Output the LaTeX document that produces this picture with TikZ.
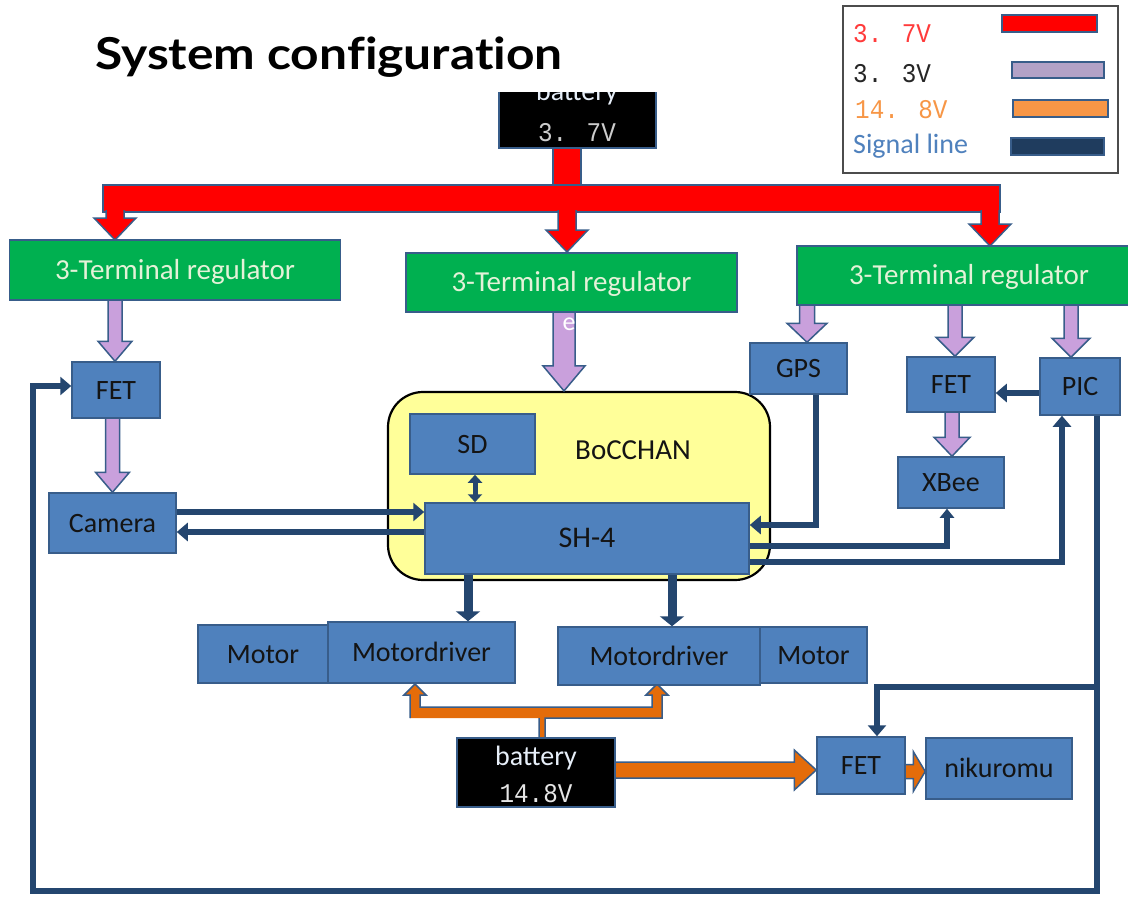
\documentclass[tikz,border=0pt]{standalone}
\usepackage{fontspec}
\setmainfont{Carlito}
\newfontfamily\titlefont[Ligatures=NoCommon]{Lato}
\newfontfamily\monofont{Liberation Mono}
\usetikzlibrary{arrows.meta,calc}
\definecolor{boxblue}{HTML}{4F81BD}
\definecolor{bord}{HTML}{385D8A}
\definecolor{regg}{HTML}{00B050}
\definecolor{regtext}{HTML}{E4F2D8}
\definecolor{redc}{HTML}{FF0000}
\definecolor{lav}{HTML}{C9A0DC}
\definecolor{orng}{HTML}{E46C0A}
\definecolor{legorng}{HTML}{F79646}
\definecolor{leglav}{HTML}{B3A2C7}
\definecolor{sigc}{HTML}{24466F}
\definecolor{yel}{HTML}{FFFF99}
\definecolor{txt}{HTML}{141414}
\definecolor{battext}{HTML}{E6EEF8}
\definecolor{legred}{HTML}{FF3B3B}
\definecolor{legblue}{HTML}{4F81BD}
\pgfdeclarelayer{back}
\pgfdeclarelayer{mid}
\pgfsetlayers{back,mid,main}
\newcommand\monotext[1]{\scalebox{0.9}[1]{#1}}
\tikzset{
  box/.style={draw=bord, fill=boxblue, line width=1.5pt, inner sep=0pt, text=txt,
    font=\fontsize{28}{30}\selectfont, text height=18pt, text depth=0pt},
  reg/.style={box, fill=regg, text=regtext, font=\fontsize{29}{31}\selectfont, text height=18.7pt},
  batbox/.style={draw=bord, fill=black, line width=1.5pt, inner sep=0pt},
  swatch/.style={draw=bord, line width=1.5pt, inner sep=0pt, minimum height=17pt},
  legtext/.style={anchor=base west, inner sep=0pt},
  sig/.style={draw=sigc, line width=6pt},
  sigarr/.style={sig, -{Triangle[width=18pt,length=11pt]}},
  barrow/.style={draw=bord, line width=1.5pt, line join=miter},
}
% vertical block arrow: start (y used), tip (x,y used), fill, shaft half, head half, head length
\newcommand\vbarrow[6]{%
  \path[fill=#3] let \p1=#1, \p2=#2, \n1={ifthenelse(\y1>\y2,1,-1)} in
    (\x2-#4pt,\y1) -- (\x2-#4pt,\y2+\n1*#6pt) -- (\x2-#5pt,\y2+\n1*#6pt) -- (\x2,\y2)
    -- (\x2+#5pt,\y2+\n1*#6pt) -- (\x2+#4pt,\y2+\n1*#6pt) -- (\x2+#4pt,\y1) -- cycle;
  \draw[barrow] let \p1=#1, \p2=#2, \n1={ifthenelse(\y1>\y2,1,-1)} in
    (\x2-#4pt,\y1) -- (\x2-#4pt,\y2+\n1*#6pt) -- (\x2-#5pt,\y2+\n1*#6pt) -- (\x2,\y2)
    -- (\x2+#5pt,\y2+\n1*#6pt) -- (\x2+#4pt,\y2+\n1*#6pt) -- (\x2+#4pt,\y1);}
% horizontal block arrow: start (x used), tip (x,y used)
\newcommand\hbarrow[6]{%
  \path[fill=#3] let \p1=#1, \p2=#2, \n1={ifthenelse(\x2>\x1,1,-1)} in
    (\x1,\y2-#4pt) -- (\x2-\n1*#6pt,\y2-#4pt) -- (\x2-\n1*#6pt,\y2-#5pt) -- (\x2,\y2)
    -- (\x2-\n1*#6pt,\y2+#5pt) -- (\x2-\n1*#6pt,\y2+#4pt) -- (\x1,\y2+#4pt) -- cycle;
  \draw[barrow] let \p1=#1, \p2=#2, \n1={ifthenelse(\x2>\x1,1,-1)} in
    (\x1,\y2-#4pt) -- (\x2-\n1*#6pt,\y2-#4pt) -- (\x2-\n1*#6pt,\y2-#5pt) -- (\x2,\y2)
    -- (\x2-\n1*#6pt,\y2+#5pt) -- (\x2-\n1*#6pt,\y2+#4pt) -- (\x1,\y2+#4pt);}
\begin{document}
\begin{tikzpicture}[x=1pt,y=-1pt]
\useasboundingbox (0,0) rectangle (1128,899);

% title
\node[anchor=base west, inner sep=0pt, font=\titlefont\bfseries\fontsize{44}{46}\selectfont] (title) at (95,70) {\scalebox{1.13}[1]{System configuration}};

% BoCCHAN board
\begin{pgfonlayer}{back}
\fill[white] (0,0) rectangle (1128,899);
\node[draw=black, line width=2.2pt, fill=yel, rounded corners=35pt, minimum width=382pt, minimum height=188pt, inner sep=0pt] (boc) at (579,486) {};
\end{pgfonlayer}
\node[inner sep=0pt, text=txt, font=\fontsize{29}{31}\selectfont] (boctext) at (633,450) {BoCCHAN};

% regulators
\node[reg, minimum width=331pt, minimum height=60pt] (reg1) at (175,270) {3-Terminal regulator};
\node[reg, minimum width=331pt, minimum height=59pt] (reg2) at (571.5,282.5) {3-Terminal regulator};
\node[reg, minimum width=344pt, minimum height=59pt] (reg3) at (969,275.5) {3-Terminal regulator};

% blue boxes
\node[box, minimum width=88pt, minimum height=56pt] (fet1) at (116,390) {FET};
\node[box, minimum width=127pt, minimum height=60pt] (cam) at (112.5,523) {Camera};
\node[box, minimum width=97pt, minimum height=51pt] (gps) at (798.5,368.5) {GPS};
\node[box, minimum width=88pt, minimum height=55pt] (fet2) at (951,384.5) {FET};
\node[box, minimum width=80pt, minimum height=57pt] (pic) at (1080,386.5) {PIC};
\node[box, minimum width=106pt, minimum height=51pt] (xbee) at (951,482.5) {XBee};
\node[box, minimum width=125pt, minimum height=60pt] (sd) at (472.5,444) {SD};
\node[box, minimum width=324pt, minimum height=71pt, font=\fontsize{30}{32}\selectfont] (sh4) at (587,538.5) {SH-4};
\node[box, minimum width=130pt, minimum height=58pt] (motor1) at (263,654) {Motor};
\node[box, minimum width=187pt, minimum height=61pt] (md1) at (421.5,652.5) {Motordriver};
\node[box, minimum width=202pt, minimum height=58pt] (md2) at (659,656) {Motordriver};
\node[box, minimum width=107pt, minimum height=56pt] (motor2) at (813.5,655) {Motor};
\node[box, minimum width=88pt, minimum height=57pt] (fetb) at (861,765.5) {FET};
\node[box, minimum width=146pt, minimum height=61pt] (nik) at (999,768.5) {nikuromu};

% batteries
\begin{scope}
  \clip (480,93) rectangle (680,160);
  \node[batbox, minimum width=157pt, minimum height=70pt] (bat1) at (577.5,113) {};
  \node[anchor=base, inner sep=0pt, text=battext, font=\fontsize{28}{30}\selectfont] (bat1a) at (577,101) {battery};
\end{scope}
\node[anchor=base, inner sep=0pt, text=black!20, font=\monofont\fontsize{27}{29}\selectfont] (bat1b) at (577,142) {\monotext{3. 7V}};
\node[batbox, minimum width=158pt, minimum height=69pt] (bat2) at (536,772.5) {};
\node[anchor=base, inner sep=0pt, text=battext, font=\fontsize{28}{30}\selectfont] (bat2a) at (536,765) {battery};
\node[anchor=base, inner sep=0pt, text=black!10, font=\monofont\fontsize{27}{29}\selectfont] (bat2b) at (536,802) {\monotext{14.8V}};

% ---------- connectors (mid layer) ----------
\begin{pgfonlayer}{mid}
% 3.7V red bus
\filldraw[fill=redc, draw=bord, line width=1.5pt] (553,146) rectangle (581,186);
\filldraw[fill=redc, draw=bord, line width=1.5pt] (103,185) rectangle (1000,212);
\vbarrow{(115,210)}{(115,240)}{redc}{9}{21}{22}
\vbarrow{(567,210)}{(567,252)}{redc}{9}{21}{22}
\vbarrow{(990,210)}{(990,246)}{redc}{9}{21}{22}

% 3.3V lavender arrows
\vbarrow{(reg1.south)}{([xshift=-1pt]fet1.north)}{lav}{7}{17}{20}
\vbarrow{(fet1.south)}{(cam.north)}{lav}{7}{17}{20}
\vbarrow{(reg2.south)}{([xshift=-15pt]boc.north)}{lav}{11}{21}{25}
\vbarrow{(reg3.south)}{([xshift=8.5pt]gps.north)}{lav}{7.5}{20}{19}
\vbarrow{(reg3.south)}{([xshift=4pt]fet2.north)}{lav}{7}{19}{19}
\vbarrow{(reg3.south)}{([xshift=-9pt]pic.north)}{lav}{7}{19}{19}
\vbarrow{(fet2.south)}{([xshift=1pt]xbee.north)}{lav}{7}{18}{19}

% 14.8V orange
\path[fill=orng] (410,718) -- (410,695) -- (404,695) -- (415,684) -- (426,695) -- (420,695) -- (420,707)
  -- (652,707) -- (652,695) -- (646,695) -- (657,684) -- (668,695) -- (662,695) -- (662,718)
  -- (545,718) -- (545,738) -- (539,738) -- (539,718) -- cycle;
\draw[barrow] (410,718) -- (410,695) -- (404,695) -- (415,684) -- (426,695) -- (420,695) -- (420,707)
  -- (652,707) -- (652,695) -- (646,695) -- (657,684) -- (668,695) -- (662,695) -- (662,718)
  -- (545,718) -- (545,738) (539,738) -- (539,718) -- cycle;
\hbarrow{(bat2.east)}{([yshift=-4.5pt]fetb.west)}{orng}{8}{20}{22}
\hbarrow{(fetb.east)}{([yshift=-3pt]nik.west)}{orng}{7}{20}{12}

% signal lines
\coordinate (jn) at (1097,687);
\draw[sigarr] ([xshift=17pt]pic.south) |- (33,891) |- ([yshift=4pt]fet1.west);
\draw[sigarr] (jn) -| ([xshift=16pt]fetb.north);
\coordinate (p1) at ([yshift=-6.5pt]pic.west);
\draw[sigarr] (p1) -- (p1 -| fet2.east);
\coordinate (s1) at ([yshift=-23.5pt]sh4.east);
\draw[sigarr] (s1) -| ([xshift=-18pt]pic.south);
\coordinate (s2) at ([yshift=-7.5pt]sh4.east);
\draw[sig, -{Triangle[width=14pt,length=9pt]}] (s2) -| ([xshift=-4pt]xbee.south);
\coordinate (s3) at ([yshift=13.5pt]sh4.east);
\draw[sigarr] ([xshift=17.5pt]gps.south) |- (s3);
\coordinate (c1) at ([yshift=11pt]cam.east);
\draw[sigarr] (c1) -- (c1 -| sh4.west);
\coordinate (c2) at ([yshift=-9pt]cam.east);
\draw[sigarr] (c2 -| sh4.west) -- (c2);
\coordinate (sdc) at ([xshift=2.5pt]sd.south);
\draw[sig, line width=5pt, {Triangle[width=14pt,length=8pt]}-{Triangle[width=14pt,length=8pt]}] (sdc) -- (sdc |- sh4.north);
\coordinate (m1) at ([xshift=-119pt]sh4.south);
\coordinate (m2) at ([xshift=85pt]sh4.south);
\draw[sig, line width=9pt, -{Triangle[width=24pt,length=10pt]}] (m1) -- (m1 |- md1.north);
\draw[sig, line width=9pt, -{Triangle[width=24pt,length=10pt]}] (m2) -- (m2 |- md2.north);
\end{pgfonlayer}

\node[anchor=base, inner sep=0pt, text=white, font=\fontsize{26}{28}\selectfont] (stray) at (569,330) {e};

% legend
\node[draw=black!70, line width=2pt, minimum width=275pt, minimum height=167pt, inner sep=0pt] (leg) at (980.5,89.5) {};
\node[legtext, text=legred, font=\monofont\fontsize{27}{29}\selectfont] (l1) at (853,43) {\monotext{3. 7V}};
\node[legtext, text=black!85, font=\monofont\fontsize{27}{29}\selectfont] (l2) at (853,82) {\monotext{3. 3V}};
\node[legtext, text=legorng, font=\monofont\fontsize{27}{29}\selectfont] (l3) at (855,118) {\monotext{14. 8V}};
\node[legtext, text=legblue, font=\fontsize{28}{30}\selectfont] (l4) at (853,153) {Signal line};
\node[swatch, fill=redc, minimum width=95pt] (sw1) at (1049.5,23.5) {};
\node[swatch, fill=leglav, minimum width=92pt, minimum height=16pt] (sw2) at (1058,70) {};
\node[swatch, fill=legorng, minimum width=95pt] (sw3) at (1060.5,108.5) {};
\node[swatch, fill=sigc!85!black, minimum width=93pt] (sw4) at (1057.5,146.5) {};
\end{tikzpicture}
\end{document}
